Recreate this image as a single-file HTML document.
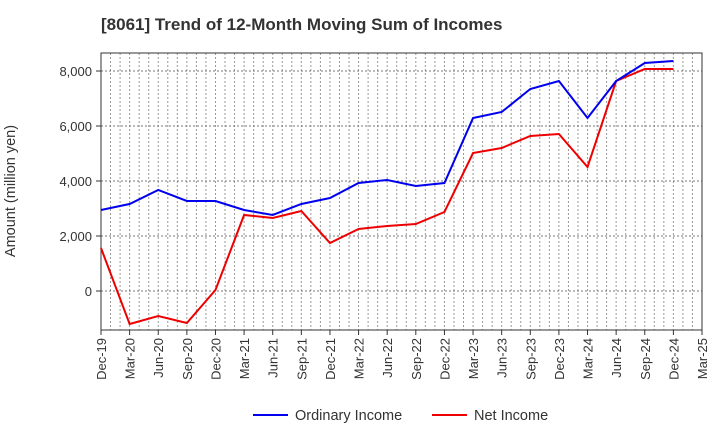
<!DOCTYPE html>
<html><head><meta charset="utf-8"><style>
body{margin:0;background:#fff;font-family:"Liberation Sans",sans-serif}
</style></head><body>
<svg id="c" width="720" height="440" xmlns="http://www.w3.org/2000/svg">
<text x="101" y="30" font-size="17" font-weight="bold" fill="#333">[8061]  Trend of 12-Month Moving Sum of Incomes</text>
<g id="grid"></g><g id="axes"></g><g id="series"></g>
<text transform="translate(15,191) rotate(-90)" text-anchor="middle" font-size="14.5" fill="#333">Amount (million yen)</text>
<g>
<line x1="253" y1="415" x2="288" y2="415" stroke="#0000ee" stroke-width="2"/>
<text x="295" y="420" font-size="14.5" fill="#333">Ordinary Income</text>
<line x1="432" y1="415" x2="467" y2="415" stroke="#ee0000" stroke-width="2"/>
<text x="474" y="420" font-size="14.5" fill="#333">Net Income</text>
</g>
</svg>
<script>
const categories=["Dec-19","Mar-20","Jun-20","Sep-20","Dec-20","Mar-21","Jun-21","Sep-21","Dec-21","Mar-22","Jun-22","Sep-22","Dec-22","Mar-23","Jun-23","Sep-23","Dec-23","Mar-24","Jun-24","Sep-24","Dec-24","Mar-25"];
const ordinaryIncome=[2945,3164,3673,3273,3273,2945,2764,3164,3382,3927,4036,3818,3927,6290,6509,7345,7636,6290,7636,8290,8364];
const netIncome=[1564,-1200,-909,-1164,36,2764,2655,2909,1745,2255,2364,2436,2873,5018,5200,5636,5709,4509,7636,8073,8073];
const yTicks=[0,2000,4000,6000,8000];
const L=101,R=702,T=53,B=330;
const ns="http://www.w3.org/2000/svg";
const xs=i=>L+(R-L)*i/(categories.length-1);
const ys=v=>291-v*55/2000;
function mk(t,a,p){const e=document.createElementNS(ns,t);for(const k in a)e.setAttribute(k,a[k]);p.appendChild(e);return e;}
const g=document.getElementById('grid'),ax=document.getElementById('axes'),s=document.getElementById('series');
for(let m=1;m<(categories.length-1)*3;m++){const x=L+(R-L)*m/((categories.length-1)*3);
 const l=mk('line',{x1:x,x2:x,y1:T,y2:B,stroke:'#999','stroke-dasharray':'2,2','stroke-width':1},g);
 
 }
yTicks.forEach(v=>{const y=ys(v);
 const l=mk('line',{x1:L,x2:R,y1:y,y2:y,stroke:'#777','stroke-dasharray':'2,2','stroke-width':1},g);
 
 
 mk('line',{x1:L-5,x2:L,y1:y,y2:y,stroke:'#333'},ax);
 const t=mk('text',{x:L-9,y:y+5,'text-anchor':'end','font-size':13,fill:'#333'},ax);t.textContent=v.toLocaleString('en-US');
 
 });
const fr=mk('rect',{x:L,y:T,width:R-L,height:B-T,fill:'none',stroke:'#333'},ax);


categories.forEach((c,i)=>{const x=xs(i);
 mk('line',{x1:x,x2:x,y1:B,y2:B+5,stroke:'#333'},ax);
 const t=mk('text',{transform:`translate(${x+5},${B+8}) rotate(-90)`,'text-anchor':'end','font-size':13,fill:'#333'},ax);t.textContent=c;
 
 });
function line(d,col,name){const p=mk('polyline',{points:d.map((v,i)=>xs(i)+','+ys(v)).join(' '),fill:'none',stroke:col,'stroke-width':2},s);
 
 }
line(netIncome,'#ee0000','net-income-line');
line(ordinaryIncome,'#0000ee','ordinary-income-line');
</script>
</body></html>
